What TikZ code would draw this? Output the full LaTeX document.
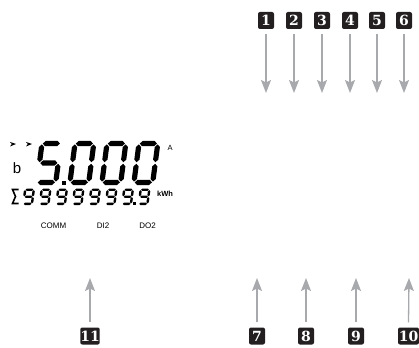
\documentclass[tikz,border=0pt]{standalone}
\usepackage{fontspec}
\setmainfont{Liberation Sans}
\newfontfamily\boxfont{DejaVu Serif}
\usetikzlibrary{arrows.meta}
\definecolor{arrgray}{HTML}{A7A9AC}
\definecolor{boxblack}{HTML}{231F20}

\newcommand\mysegH[4]{\fill (#1,#3) -- (#1+#4/2,#3+#4/2) -- (#2-#4/2,#3+#4/2) -- (#2,#3) -- (#2-#4/2,#3-#4/2) -- (#1+#4/2,#3-#4/2) -- cycle;}
\newcommand\mysegV[4]{\fill (#1,#2) -- (#1+#4/2,#2+#4/2) -- (#1+#4/2,#3-#4/2) -- (#1,#3) -- (#1-#4/2,#3-#4/2) -- (#1-#4/2,#2+#4/2) -- cycle;}
\newcommand\digsetup[4]{\def\dW{#1}\def\dH{#2}\def\dT{#3}\def\dg{#4}%
  \pgfmathsetmacro\xl{#3/2}\pgfmathsetmacro\xr{#1-#3/2}%
  \pgfmathsetmacro\yb{#3/2}\pgfmathsetmacro\ym{#2/2}\pgfmathsetmacro\yt{#2-#3/2}}
\newcommand\lcdA{\mysegH{\xl+\dg}{\xr-\dg}{\yt}{\dT}}
\newcommand\lcdB{\mysegV{\xr}{\ym+\dg}{\yt-\dg}{\dT}}
\newcommand\lcdC{\mysegV{\xr}{\yb+\dg}{\ym-\dg}{\dT}}
\newcommand\lcdD{\mysegH{\xl+\dg}{\xr-\dg}{\yb}{\dT}}
\newcommand\lcdE{\mysegV{\xl}{\yb+\dg}{\ym-\dg}{\dT}}
\newcommand\lcdF{\mysegV{\xl}{\ym+\dg}{\yt-\dg}{\dT}}
\newcommand\lcdG{\mysegH{\xl+\dg}{\xr-\dg}{\ym}{\dT}}
\newcommand\lcddigit[3]{\begin{scope}[shift={(#1,#2)},x=1pt,y=1pt,xslant=0.13]#3\end{scope}}
\newcommand\dfive{\lcdA\lcdF\lcdG\lcdC\lcdD}
\newcommand\dzero{\lcdA\lcdB\lcdC\lcdD\lcdE\lcdF}
\newcommand\dnine{\lcdA\lcdB\lcdC\lcdD\lcdF\lcdG}

\begin{document}
\begin{tikzpicture}[x=1pt,y=-1pt,
  numbox/.style={fill=boxblack, rounded corners=2pt, minimum width=16pt, minimum height=17pt,
    inner sep=0pt, text=white, font=\boxfont\bfseries\fontsize{14}{14}\selectfont},
  widebox/.style={numbox, minimum width=20pt},
  arr/.style={draw=arrgray, line width=1.3pt, -{Stealth[length=13pt,width=10pt,inset=2.5pt]}, fill=arrgray},
  lcdtext/.style={inner sep=0pt, font=\fontsize{8}{8}\selectfont}]
\useasboundingbox (0,0) rectangle (419,347);

% ---- LCD indicators
\fill (10,142) -- (16,144) -- (10,146.5) -- (11.8,144) -- cycle;
\fill (26,142) -- (32,144) -- (26,146.5) -- (27.8,144) -- cycle;
\node[inner sep=0pt, font=\fontsize{15}{15}\selectfont] (b) at (17,168.5) {b};

% ---- big digits 5.000
\digsetup{24}{44}{5.2}{0.8}
\lcddigit{34}{185}{\dfive}
\lcddigit{67}{185}{\dzero}
\lcddigit{99}{185}{\dzero}
\lcddigit{131}{185}{\dzero}
\fill (62,180.5) rectangle (65.5,184.5);
\node[lcdtext, font=\fontsize{7.5}{7.5}\selectfont] (A) at (170,147.5) {A};

% ---- small digits 9999999.9
\draw[line width=1.6pt, line join=miter] (18.5,189.5) -- (12.5,189.5) -- (15.5,196.5) -- (12.5,203.5) -- (18.5,203.5);
\digsetup{11}{16.5}{2.4}{0.45}
\lcddigit{22}{205}{\dnine}
\lcddigit{38.5}{205}{\dnine}
\lcddigit{55}{205}{\dnine}
\lcddigit{71.5}{205}{\dnine}
\lcddigit{88}{205}{\dnine}
\lcddigit{104.5}{205}{\dnine}
\lcddigit{121}{205}{\dnine}
\lcddigit{137.5}{205}{\dnine}
\fill (133.3,202.3) rectangle (135.6,204.8);
\node[lcdtext, font=\bfseries\fontsize{7.5}{7.5}\selectfont] (kwh) at (165,193.5) {kWh};

\node[lcdtext] (comm) at (53.5,226) {COMM};
\node[lcdtext] (di2) at (103,226) {DI2};
\node[lcdtext] (do2) at (147.5,226) {DO2};

% ---- top numbered boxes and arrows
\foreach \n/\x in {1/266,2/294,3/322,4/350,5/377,6/404}{
  \node[numbox] (b\n) at (\x,20.5) {\n};
  \coordinate (t\n) at (\x,93);
  \draw[arr] ([yshift=-5pt]b\n.south) -- (t\n);
}

% ---- bottom numbered boxes and arrows
\node[widebox, minimum width=19pt] (b11) at (90,336) {11};
\node[numbox] (b7) at (257,336) {7};
\node[numbox] (b8) at (306,336) {8};
\node[numbox] (b9) at (356,336) {9};
\node[widebox, minimum width=21pt] (b10) at (408.5,336) {10};
\foreach \n/\x in {11/90,7/257,8/306,9/356,10/409}{
  \coordinate (u\n) at (\x,278);
  \draw[arr] ([yshift=5pt]b\n.north) -- (u\n);
}
\end{tikzpicture}
\end{document}
